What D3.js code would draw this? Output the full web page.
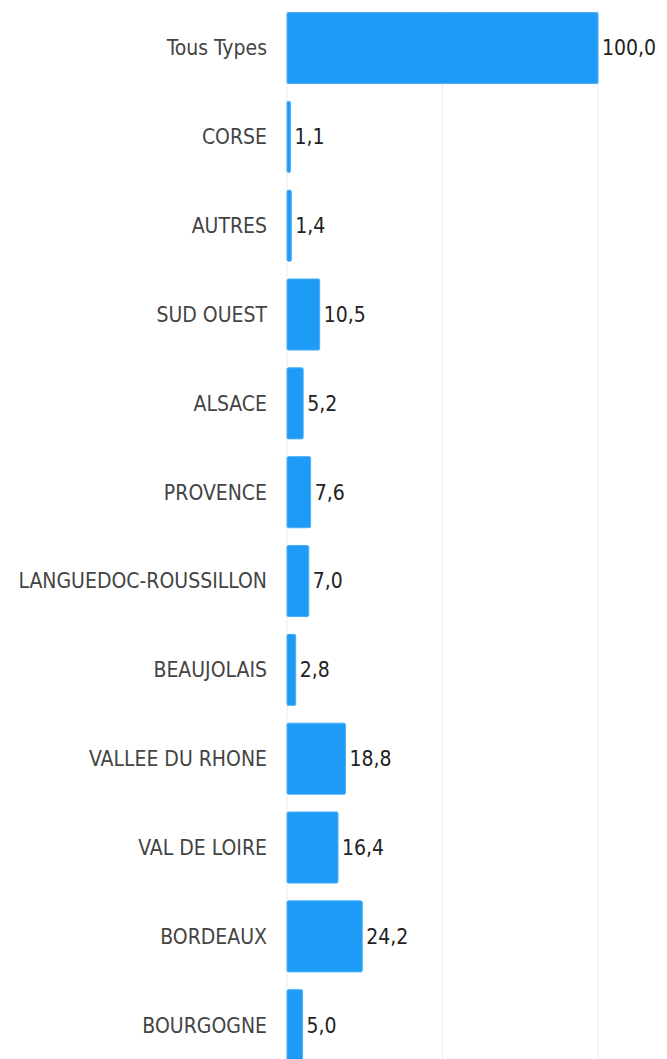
<!DOCTYPE html>
<html>
<head>
<meta charset="utf-8">
<script src="https://cdn.jsdelivr.net/npm/d3@7"></script>
<style>
  body { margin: 0; background: #fff; }
  svg { display: block; }
  .label { font-family: "DejaVu Sans Condensed", "DejaVu Sans", sans-serif; font-size: 21px; fill: #444; }
  .value { font-family: "DejaVu Sans Condensed", "DejaVu Sans", sans-serif; font-size: 21px; fill: #222; }
</style>
</head>
<body>
<svg width="667" height="1059"></svg>
<script>
const regions = ["Tous Types", "CORSE", "AUTRES", "SUD OUEST", "ALSACE", "PROVENCE",
  "LANGUEDOC-ROUSSILLON", "BEAUJOLAIS", "VALLEE DU RHONE", "VAL DE LOIRE", "BORDEAUX", "BOURGOGNE"];
const shares = [100.0, 1.1, 1.4, 10.5, 5.2, 7.6, 7.0, 2.8, 18.8, 16.4, 24.2, 5.0];
const gridTicks = [0, 50, 100];

var svg = d3.select("svg");

var x = d3.scaleLinear().domain([0, 100]).range([287, 598]);
var y = d3.scaleBand().domain(regions).range([3.6, 1069.6])
    .paddingInner(0.2).paddingOuter(0.1);

// grid
svg.append("g").selectAll("line")
  .data(gridTicks)
  .enter().append("line")
    .attr("x1", d => x(d)).attr("x2", d => x(d))
    .attr("y1", 10).attr("y2", 1059)
    .attr("stroke", "#ebebeb").attr("stroke-width", 1);

var rows = svg.append("g").selectAll("g")
  .data(regions)
  .enter().append("g");

rows.append("rect")
    .attr("x", x(0))
    .attr("y", d => y(d))
    .attr("width", (d, i) => x(shares[i]) - x(0))
    .attr("height", y.bandwidth())
    .attr("rx", 1.5)
    .attr("fill", "#1e9bf7")
    .attr("stroke", "#4aaef7")
    .attr("stroke-width", 1);

rows.append("text")
    .attr("class", "label")
    .attr("x", x(0) - 20)
    .attr("y", d => y(d) + y.bandwidth() / 2)
    .attr("dy", "0.35em")
    .attr("text-anchor", "end")
    .text(d => d);

rows.append("text")
    .attr("class", "value")
    .attr("x", (d, i) => x(shares[i]) + 4)
    .attr("y", d => y(d) + y.bandwidth() / 2)
    .attr("dy", "0.35em")
    .text((d, i) => d3.format(".1f")(shares[i]).replace(".", ","));
</script>
</body>
</html>
